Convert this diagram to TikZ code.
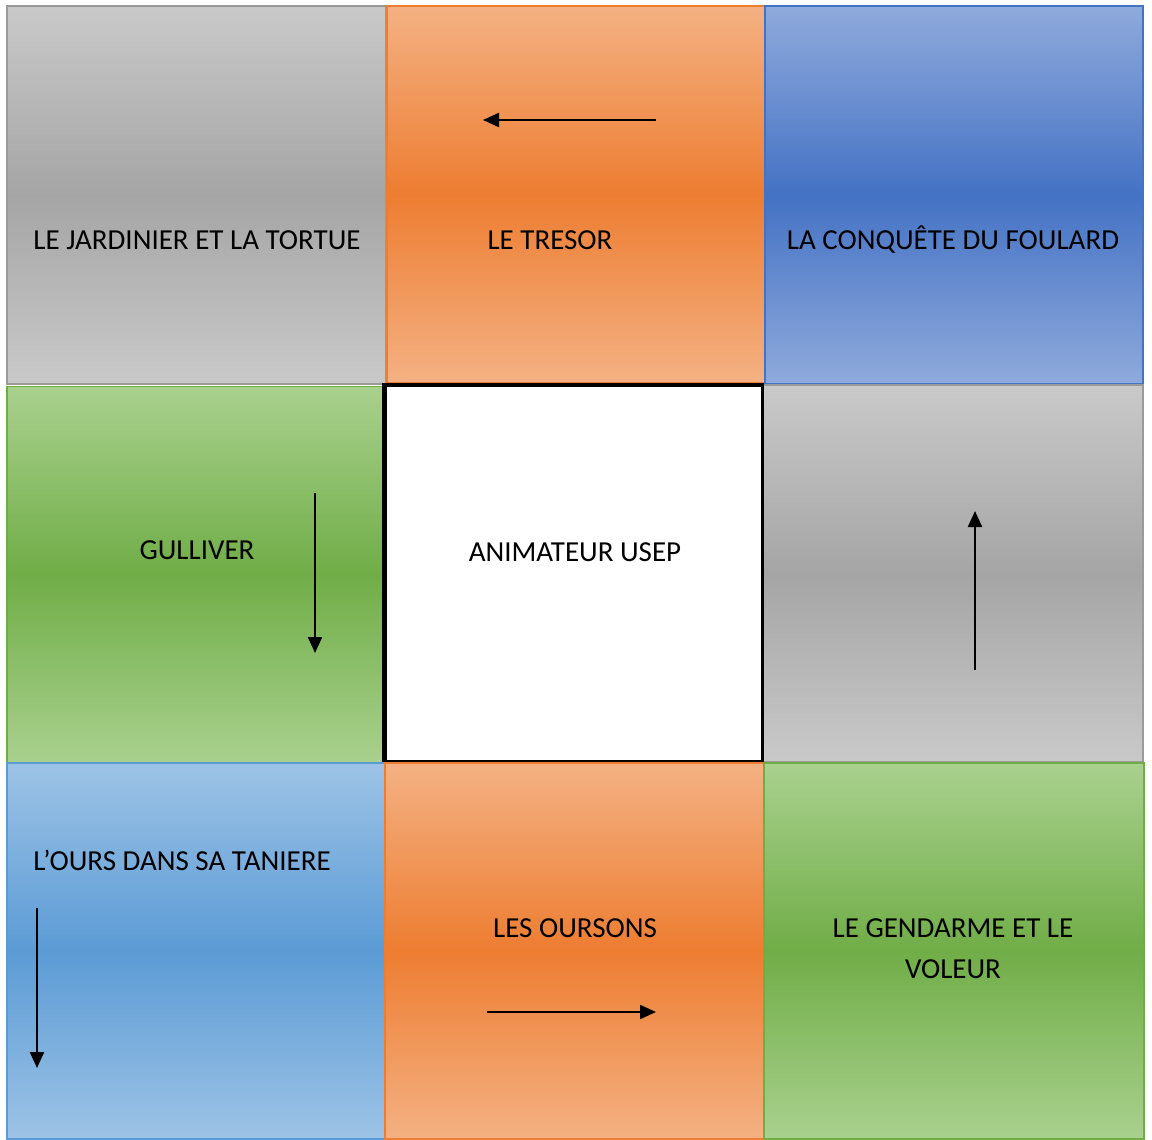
\documentclass[tikz,border=0pt]{standalone}
\usepackage{fontspec}
\setmainfont{Carlito}
\usetikzlibrary{arrows.meta}
\definecolor{grayL}{HTML}{C9C9C9}
\definecolor{grayD}{HTML}{A5A5A5}
\definecolor{grayB}{HTML}{9A9A9A}
\definecolor{orL}{HTML}{F4B183}
\definecolor{orD}{HTML}{ED7D31}
\definecolor{blL}{HTML}{8FAADC}
\definecolor{blD}{HTML}{4472C4}
\definecolor{grL}{HTML}{A9D18E}
\definecolor{grD}{HTML}{70AD47}
\definecolor{lbL}{HTML}{9DC3E6}
\definecolor{lbD}{HTML}{5B9BD5}
\begin{document}
\begin{tikzpicture}[x=1pt,y=-1pt,
  cell/.style n args={3}{draw=#3, line width=1.5pt, top color=#1, bottom color=#1, middle color=#2, inner sep=0pt},
  lbl/.style={font=\fontsize{29}{41}\selectfont, text=black, align=center, inner sep=0pt},
  arr/.style={line width=2.2pt, -{Triangle[length=16pt,width=14pt]}}]
\useasboundingbox[fill=white] (0,0) rectangle (1152,1140);
% row 1
\node[cell={grayL}{grayD}{grayB}, minimum width=379pt, minimum height=378pt] (c11) at (196.5,195) {};
\node[cell={orL}{orD}{orD}, minimum width=378pt, minimum height=377pt] (c12) at (576,194.5) {};
\node[cell={blL}{blD}{blD}, minimum width=378pt, minimum height=378pt] (c13) at (954,195) {};
% row 2
\node[cell={grL}{grD}{grD}, minimum width=377pt, minimum height=376pt] (c21) at (195.5,574.5) {};
\node[cell={grayL}{grayD}{grayB}, minimum width=380pt, minimum height=377pt] (c23) at (953,573.5) {};
% row 3
\node[cell={lbL}{lbD}{lbD}, minimum width=378pt, minimum height=376pt] (c31) at (196,951) {};
\node[cell={orL}{orD}{orD}, minimum width=379pt, minimum height=376pt] (c32) at (574.5,951) {};
\node[cell={grL}{grD}{grD}, minimum width=380pt, minimum height=376pt] (c33) at (954,951) {};
% centre
\node[draw=black, line width=2.5pt, fill=white, minimum width=377pt, minimum height=376pt, inner sep=0pt] (c22) at (574,573) {};
\draw[line width=4pt] ([xshift=-0.75pt]c22.south west) -- ([xshift=-0.75pt,yshift=-0.75pt]c22.north west) -- ([yshift=-0.75pt]c22.north east);
% labels
\node[lbl] (t11) at (197,240) {LE JARDINIER ET LA TORTUE};
\node[lbl] (t12) at (550,240) {LE TRESOR};
\node[lbl] (t13) at (953,240) {LA CONQUÊTE DU FOULARD};
\node[lbl] (t21) at (197,550) {GULLIVER};
\node[lbl] (t22) at (575,552) {ANIMATEUR USEP};
\node[lbl] (t31) at (182,860) {L’OURS DANS SA TANIERE};
\node[lbl] (t32) at (575,928) {LES OURSONS};
\node[lbl] (t33) at (953,948.5) {LE GENDARME ET LE\\VOLEUR};
% arrows
\coordinate (a1s) at (656,120); \coordinate (a1e) at (483,120);
\coordinate (a2s) at (315,493); \coordinate (a2e) at (315,653);
\coordinate (a3s) at (975,670); \coordinate (a3e) at (975,511);
\coordinate (a4s) at (37,908);  \coordinate (a4e) at (37,1068);
\coordinate (a5s) at (487,1012); \coordinate (a5e) at (656,1012);
\draw[arr] (a1s) -- (a1e);
\draw[arr] (a2s) -- (a2e);
\draw[arr] (a3s) -- (a3e);
\draw[arr] (a4s) -- (a4e);
\draw[arr] (a5s) -- (a5e);
\end{tikzpicture}
\end{document}
